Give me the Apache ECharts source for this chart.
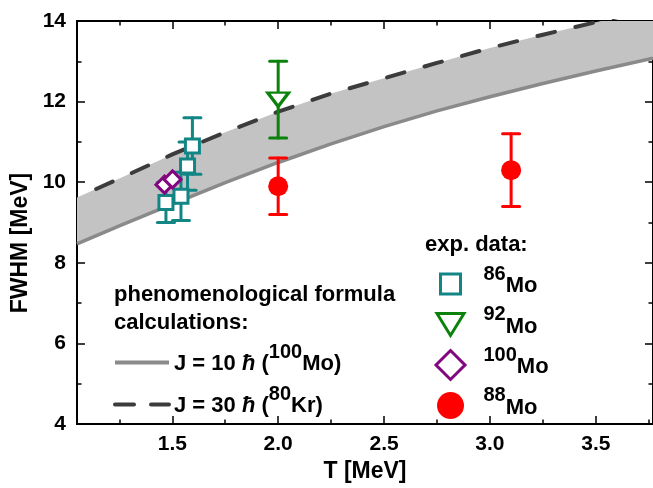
<!DOCTYPE html>
<html>
<head>
<meta charset="utf-8">
<script src="https://cdn.jsdelivr.net/npm/echarts@6/dist/echarts.min.js"></script>
<style>
  html, body { margin: 0; padding: 0; background: #fff; }
  #chart { width: 653px; height: 488px; }
</style>
</head>
<body>
<div id="chart"></div>
<script>
// Phenomenological formula curves, FWHM [MeV] versus T [MeV]
const T_GRID   = [1.05, 1.25, 1.5, 1.75, 2.0, 2.25, 2.5, 2.75, 3.0, 3.25, 3.5, 3.77];
const FWHM_J10 = [8.47, 8.92, 9.46, 9.99, 10.49, 10.95, 11.38, 11.77, 12.12, 12.45, 12.76, 13.08];
const FWHM_J30 = [9.62, 10.09, 10.69, 11.24, 11.75, 12.20, 12.58, 12.96, 13.33, 13.66, 13.97, 14.30];

// Experimental points
const MO86_T    = [1.595, 1.572, 1.541, 1.47];
const MO86_FWHM = [10.9, 10.4, 9.65, 9.5];
const MO86_ERR  = [0.7, 0.6, 0.6, 0.5];

const MO92_T    = [2.0];
const MO92_FWHM = [12.05];
const MO92_ERR  = [0.95];

const MO100_T    = [1.463, 1.501];
const MO100_FWHM = [9.94, 10.07];

const MO88_T    = [2.0, 3.1];
const MO88_FWHM = [9.9, 10.3];
const MO88_ERR  = [0.7, 0.9];

// Axis ticks
const X_MIN = 1.05, X_MAX = 3.77;
const X_MAJOR = [1.5, 2.0, 2.5, 3.0, 3.5];
const X_MINOR = [1.25, 1.75, 2.25, 2.75, 3.25, 3.75];
const Y_MIN = 4, Y_MAX = 14, Y_STEP = 2;

const FAMILY = '"Liberation Sans", Arial, sans-serif';
const TEAL = '#128585', GREEN = '#0b820b', PURPLE = '#82067f', RED = '#ff0000';

const pairs = (xs, ys) => xs.map((x, i) => [x, ys[i]]);
const bars = (xs, ys, es) => xs.map((x, i) => [x, ys[i] - es[i], ys[i] + es[i]]);

function errorBars(color) {
  return function (params, api) {
    const x = api.value(0);
    const top = api.coord([x, api.value(2)]);
    const bot = api.coord([x, api.value(1)]);
    const half = 8.5;
    const style = { stroke: color, lineWidth: 3, fill: null, lineCap: 'round' };
    return {
      type: 'group',
      children: [
        { type: 'line', shape: { x1: top[0], y1: top[1], x2: bot[0], y2: bot[1] }, style },
        { type: 'line', shape: { x1: top[0] - half, y1: top[1], x2: top[0] + half, y2: top[1] }, style },
        { type: 'line', shape: { x1: bot[0] - half, y1: bot[1], x2: bot[0] + half, y2: bot[1] }, style }
      ]
    };
  };
}

// Shaded region between the J = 10 and J = 30 curves
function bandPolygon(params, api) {
  const upper = T_GRID.map((t, i) => api.coord([t, FWHM_J30[i]]));
  const lower = T_GRID.map((t, i) => api.coord([t, FWHM_J10[i]])).reverse();
  return { type: 'polygon', shape: { points: upper.concat(lower) }, style: { fill: '#c3c3c3' } };
}

function xAxisOf(position, ticks, len, withLabels) {
  return {
    type: 'value', position, min: X_MIN, max: X_MAX,
    axisLine: { show: true, onZero: false, lineStyle: { color: '#000', width: 2 } },
    axisTick: { show: true, inside: true, length: len, customValues: ticks, lineStyle: { color: '#000', width: 1.5 } },
    axisLabel: withLabels ? {
      show: true, customValues: ticks, formatter: v => v.toFixed(1),
      fontFamily: FAMILY, fontSize: 21, fontWeight: 'bold', color: '#000', margin: 10
    } : { show: false },
    splitLine: { show: false }
  };
}

function yAxisOf(position, withLabels) {
  return {
    type: 'value', position, min: Y_MIN, max: Y_MAX, interval: Y_STEP,
    axisLine: { show: true, onZero: false, lineStyle: { color: '#000', width: 2 } },
    axisTick: { show: true, inside: true, length: 8, lineStyle: { color: '#000', width: 1.5 } },
    minorTick: { show: true, splitNumber: 2, length: 4.5, lineStyle: { color: '#000', width: 1.5 } },
    axisLabel: withLabels ? {
      show: true, fontFamily: FAMILY, fontSize: 21, fontWeight: 'bold', color: '#000', margin: 11
    } : { show: false },
    splitLine: { show: false }
  };
}

// Rich-text legend labels with a raised mass number
const FONTS = {
  b: 'bold 22px ' + FAMILY,
  i: 'italic bold 22px ' + FAMILY,
  s: 'bold 20px ' + FAMILY
};
const measureCtx = document.createElement('canvas').getContext('2d');
function textWidth(style, text) {
  measureCtx.font = FONTS[style];
  return measureCtx.measureText(text).width;
}

const rich = {
  b: { fontFamily: FAMILY, fontSize: 22, fontWeight: 'bold', color: '#000', lineHeight: 14 },
  i: { fontFamily: FAMILY, fontSize: 22, fontWeight: 'bold', fontStyle: 'italic', color: '#000', lineHeight: 14 },
  s: { fontFamily: FAMILY, fontSize: 20, fontWeight: 'bold', color: '#000', lineHeight: 10 },
  e: { fontSize: 6, lineHeight: 6 }
};

// pre: tokens before the superscript, sup: raised text, post: text after it
function supLabel(key, pre, sup, post) {
  const preW = pre.reduce((w, [st, tx]) => w + textWidth(st, tx), 0);
  const supW = textWidth('s', sup);
  let line1 = '';
  if (preW > 0) {
    rich['p_' + key] = { width: preW, lineHeight: 10, fontSize: 10 };
    line1 += '{p_' + key + '| }';
  }
  line1 += '{s|' + sup + '}';
  rich['q_' + key] = { width: supW, lineHeight: 14, fontSize: 10 };
  const line2 = pre.map(([st, tx]) => '{' + st + '|' + tx + '}').join('') +
    '{q_' + key + '| }{b|' + post + '}';
  return line1 + '\n' + line2 + '\n{e| }';
}

const LEGEND_TEXT = {
  J10: supLabel('J10', [['b', 'J = 10 '], ['i', 'ħ'], ['b', ' (']], '100', 'Mo)'),
  J30: supLabel('J30', [['b', 'J = 30 '], ['i', 'ħ'], ['b', ' (']], '80', 'Kr)'),
  '86Mo': supLabel('m86', [], '86', 'Mo'),
  '92Mo': supLabel('m92', [], '92', 'Mo'),
  '100Mo': supLabel('m100', [], '100', 'Mo'),
  '88Mo': supLabel('m88', [], '88', 'Mo')
};

const hiddenSymbol = { color: 'rgba(0,0,0,0)', borderColor: 'rgba(0,0,0,0)', borderWidth: 0, opacity: 0 };

const chart = echarts.init(document.getElementById('chart'), null, { renderer: 'canvas' });

chart.setOption({
  animation: false,
  backgroundColor: '#fff',
  textStyle: { fontFamily: FAMILY },
  grid: { left: 77, top: 21, width: 580, height: 405 },
  xAxis: [
    Object.assign(xAxisOf('bottom', X_MAJOR, 8, true), {
      name: 'T [MeV]', nameLocation: 'middle', nameGap: 33,
      nameTextStyle: { fontFamily: FAMILY, fontSize: 23, fontWeight: 'bold', color: '#000' }
    }),
    xAxisOf('bottom', X_MINOR, 4.5, false),
    xAxisOf('top', X_MAJOR, 8, false),
    xAxisOf('top', X_MINOR, 4.5, false)
  ],
  yAxis: [yAxisOf('left', true), yAxisOf('right', false)],
  title: [
    { text: 'exp. data:', left: 425, top: 232, padding: 0,
      textStyle: { fontFamily: FAMILY, fontSize: 22, fontWeight: 'bold', color: '#000', lineHeight: 26 } },
    { text: 'phenomenological formula\ncalculations:', left: 114, top: 281, padding: 0,
      textStyle: { fontFamily: FAMILY, fontSize: 22, fontWeight: 'bold', color: '#000', lineHeight: 28 } }
  ],
  graphic: [{
    type: 'text', x: 21, y: 243, rotation: Math.PI / 2,
    style: { text: 'FWHM [MeV]', font: 'bold 23px ' + FAMILY, fill: '#000', align: 'center', verticalAlign: 'middle' }
  }],
  legend: [
    {
      orient: 'vertical', left: 113, top: 342.4, padding: 0, itemGap: 7,
      itemWidth: 54, itemHeight: 20, selectedMode: false,
      lineStyle: { width: 4 },
      data: [
        { name: 'J10', itemStyle: hiddenSymbol },
        { name: 'J30', itemStyle: hiddenSymbol, lineStyle: { type: [19, 17], dashOffset: 0, width: 4 } }
      ],
      formatter: n => LEGEND_TEXT[n],
      textStyle: { rich }
    },
    {
      orient: 'vertical', left: 432, top: 264, padding: 0, itemGap: 2,
      itemWidth: 56, itemHeight: 34, selectedMode: false,
      itemStyle: { borderWidth: 3 },
      data: [
        { name: '86Mo', icon: 'path://M0,0M34,34M7,7L27,7L27,27L7,27Z' },
        { name: '92Mo', icon: 'path://M0,0M34,34M3.5,6L30.5,6L17,28Z' },
        { name: '100Mo', icon: 'path://M0,0M34,34M17,2.5L31.5,17L17,31.5L2.5,17Z' },
        { name: '88Mo', icon: 'path://M0,0M34,34M3.5,17A13.5,13.5,0,1,0,30.5,17A13.5,13.5,0,1,0,3.5,17Z', itemStyle: { borderWidth: 0 } }
      ],
      formatter: n => LEGEND_TEXT[n],
      textStyle: { rich }
    }
  ],
  series: [
    {
      name: 'band', type: 'custom', renderItem: bandPolygon, silent: true, clip: true,
      data: [[T_GRID[0], FWHM_J10[0]]], encode: { x: 0, y: 1 }, z: 1
    },
    {
      name: 'J10', type: 'line', symbol: 'none',
      data: pairs(T_GRID, FWHM_J10),
      lineStyle: { color: '#8a8a8a', width: 3.5 }, itemStyle: { color: '#8a8a8a' }, z: 2
    },
    {
      name: 'J30', type: 'line', symbol: 'none',
      data: pairs(T_GRID, FWHM_J30),
      lineStyle: { color: '#3c3c3c', width: 4, type: [18, 21], dashOffset: 18, cap: 'round' },
      itemStyle: { color: '#3c3c3c' }, z: 2
    },
    // 86Mo
    {
      name: 'err86', type: 'custom', renderItem: errorBars(TEAL),
      data: bars(MO86_T, MO86_FWHM, MO86_ERR), encode: { x: 0, y: [1, 2] }, z: 3
    },
    {
      name: '86Mo', type: 'scatter', symbol: 'rect', symbolSize: 14,
      data: pairs(MO86_T, MO86_FWHM),
      itemStyle: { color: '#fff', borderColor: TEAL, borderWidth: 3, opacity: 1 }, z: 4
    },
    // 92Mo
    {
      name: 'err92', type: 'custom', renderItem: errorBars(GREEN),
      data: bars(MO92_T, MO92_FWHM, MO92_ERR), encode: { x: 0, y: [1, 2] }, z: 3
    },
    {
      name: '92Mo', type: 'scatter', symbol: 'path://M0,0L24,0L12,17Z', symbolSize: [21, 14],
      data: pairs(MO92_T, MO92_FWHM),
      itemStyle: { color: '#fff', borderColor: GREEN, borderWidth: 3, opacity: 1 }, z: 4
    },
    // 88Mo
    {
      name: 'err88', type: 'custom', renderItem: errorBars(RED),
      data: bars(MO88_T, MO88_FWHM, MO88_ERR), encode: { x: 0, y: [1, 2] }, z: 3
    },
    {
      name: '88Mo', type: 'scatter', symbol: 'circle', symbolSize: 20,
      data: pairs(MO88_T, MO88_FWHM),
      itemStyle: { color: RED, opacity: 1 }, z: 4
    },
    // 100Mo
    {
      name: '100Mo', type: 'scatter', symbol: 'diamond', symbolSize: 17,
      data: pairs(MO100_T, MO100_FWHM),
      itemStyle: { color: '#fff', borderColor: PURPLE, borderWidth: 3, opacity: 1 }, z: 5
    }
  ]
});
</script>
</body>
</html>
